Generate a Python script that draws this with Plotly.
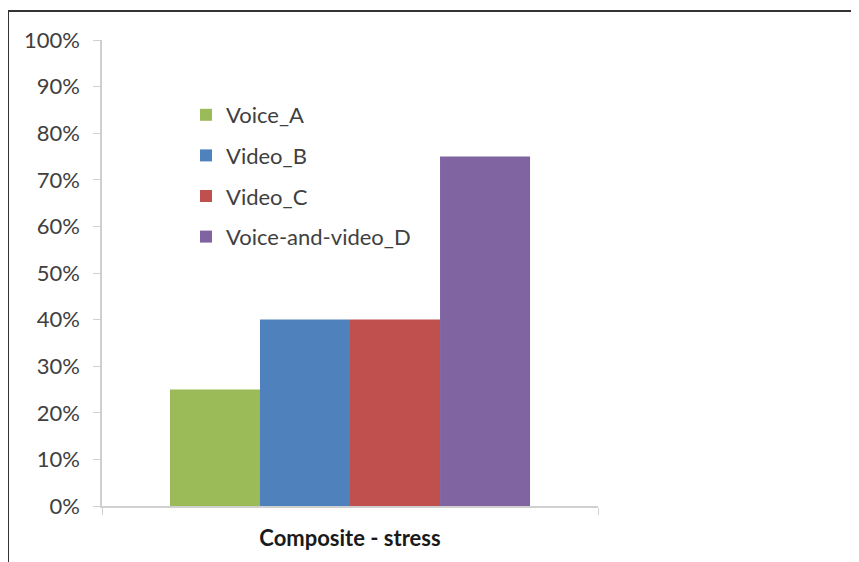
import plotly.graph_objects as go

categories = ["Composite - stress"]
series_names = ["Voice_A", "Video_B", "Video_C", "Voice-and-video_D"]
series_values = [[0.25], [0.40], [0.40], [0.75]]
colors = ["#9BBB59", "#4F81BD", "#C0504D", "#8064A2"]
y_ticks = [0, 0.1, 0.2, 0.3, 0.4, 0.5, 0.6, 0.7, 0.8, 0.9, 1.0]

# page is rendered with an 8px body margin; work in page pixels and convert
OFF = 8
W, H = 859 - OFF, 562 - OFF
L, R, T, B = 102 - OFF, 598 - OFF, 40 - OFF, 506 - OFF

fig = go.Figure()
for i, (name, vals, col) in enumerate(zip(series_names, series_values, colors)):
    fig.add_trace(go.Bar(x=categories, y=vals, name=name, marker_color=col,
                         marker_line_width=0, legendgroup=f"g{i}"))

def px_x(p):
    return (p - OFF - L) / (R - L)

def px_y(p):
    return (B - (p - OFF)) / (B - T)

fig.update_layout(
    width=W, height=H,
    margin=dict(l=L, r=W - R, t=T, b=H - B, pad=0),
    paper_bgcolor="white", plot_bgcolor="white",
    barmode="group", bargap=0.274, bargroupgap=0,
    font=dict(family="Lato", color="#404040", size=22),
    legend=dict(x=px_x(186), y=px_y(94), xanchor="left", yanchor="top",
                bgcolor="rgba(0,0,0,0)", tracegroupgap=9,
                font=dict(size=22, color="#404040"), itemwidth=30),
    showlegend=True,
    xaxis=dict(showline=True, linecolor="#d0d0d0", linewidth=1.5,
               ticks="outside", tickson="boundaries", ticklen=7, tickcolor="#d0d0d0",
               tickfont=dict(size=22, color="#1a1a1a", weight="bold"),
               ticklabelstandoff=12, showgrid=False, zeroline=False),
    yaxis=dict(range=[0, 1], tickvals=y_ticks, tickformat=".0%",
               showline=True, linecolor="#d0d0d0", linewidth=1.5,
               ticks="outside", ticklen=7, tickcolor="#d0d0d0",
               tickfont=dict(size=22, color="#404040"),
               ticklabelstandoff=9, showgrid=False, zeroline=False),
    shapes=[
        dict(type="line", xref="paper", yref="paper", x0=px_x(8), x1=px_x(8),
             y0=px_y(10), y1=px_y(570), line=dict(color="#333333", width=2)),
        dict(type="line", xref="paper", yref="paper", x0=px_x(7), x1=px_x(870),
             y0=px_y(11), y1=px_y(11), line=dict(color="#333333", width=2)),
    ],
)

fig.write_html("out.html")
